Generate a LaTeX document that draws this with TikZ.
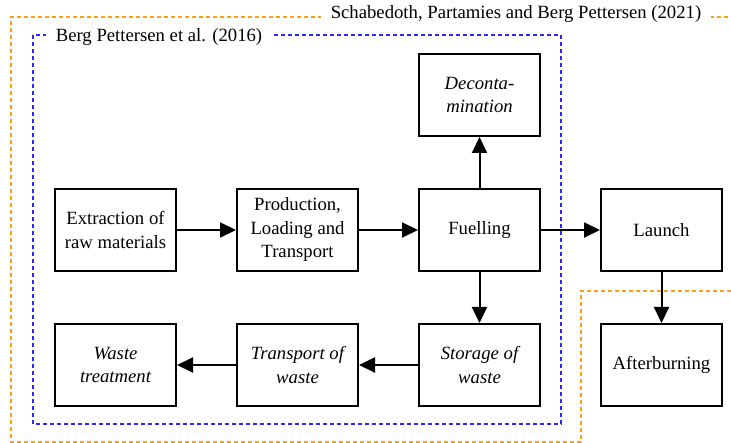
\documentclass[tikz,border=0pt]{standalone}
\usepackage{fontspec}
\setmainfont{Liberation Serif}
\usetikzlibrary{positioning, arrows.meta}
\definecolor{frameblue}{RGB}{40,40,255}
\definecolor{frameorange}{RGB}{255,160,20}
\tikzset{
    ->, % Directed edges
    >={Triangle[length=16pt,width=15pt]}, % Filled arrowheads
    node distance=182pt, % Distance between stage centres
    stage/.style={draw, line width=2pt, minimum width=121pt, minimum height=82pt,
        align=center, font=\fontsize{18.7}{23.5}\selectfont}, % Life cycle stages
    italic/.style={font=\fontsize{18.7}{23.5}\selectfont\itshape}, % Stages in italics
    framelabel/.style={fill=white, inner xsep=10pt, inner ysep=2pt,
        font=\fontsize{18.7}{23.5}\selectfont}, % Labels on the dashed frames
    frameline/.style={-, line width=1.5pt, dash pattern=on 4pt off 3pt},
}

\begin{document}
\begin{tikzpicture}[x=1pt, y=-1pt]
    \useasboundingbox (0,0) rectangle (731,443);

    % dashed frames
    \draw[frameline, frameorange]
        (731,291) -- (581,291) -- (581,442) -- (11,442) -- (11,17) -- (731,17);
    \draw[frameline, frameblue] (33,35) rectangle (561,424);
    \node[framelabel] (schabedoth) at (516,14) {Schabedoth, Partamies and Berg Pettersen (2021)};
    \node[framelabel] (berg) at (159,37) {Berg Pettersen et al. (2016)};

    \node[stage] (extraction) at (115.5,230) {Extraction of\\raw materials};
    \node[stage] (production) [right of=extraction] {Production,\\Loading and\\Transport};
    \node[stage] (fuelling) [right of=production] {Fuelling};
    \node[stage] (launch) [right of=fuelling] {Launch};
    \node[stage, italic] (decon) [node distance=135pt, above of=fuelling] {Deconta-\\mination};
    \node[stage, italic] (storage) [node distance=135pt, below of=fuelling] {Storage of\\waste};
    \node[stage, italic] (transport) [left of=storage] {Transport of\\waste};
    \node[stage, italic] (waste) [left of=transport] {Waste\\treatment};
    \node[stage] (afterburning) [node distance=135pt, below of=launch] {Afterburning};

    \path[line width=2pt]
        (extraction) edge (production)
        (production) edge (fuelling)
        (fuelling) edge (launch)
                   edge (decon)
                   edge (storage)
        (storage) edge (transport)
        (transport) edge (waste)
        (launch) edge (afterburning);
\end{tikzpicture}
\end{document}
